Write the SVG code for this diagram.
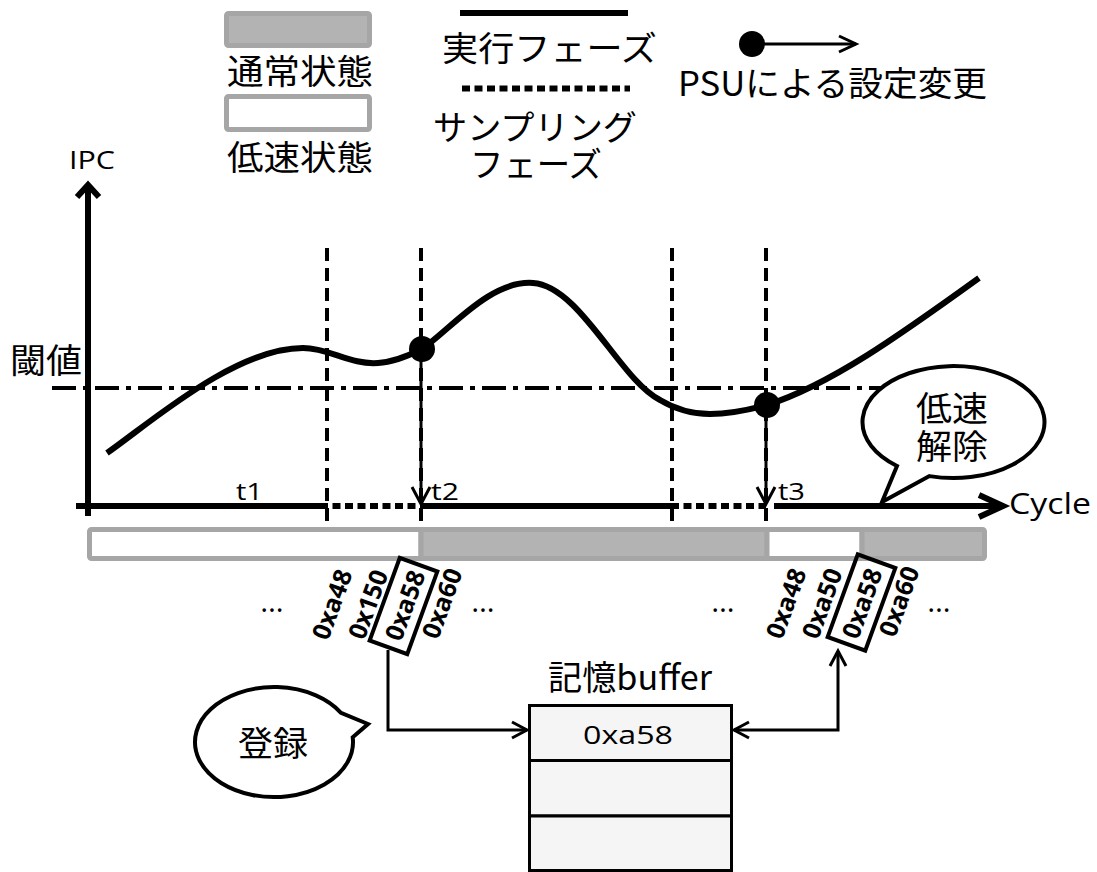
<svg xmlns="http://www.w3.org/2000/svg" width="1097" height="872" viewBox="0 0 1097 872">
<style>
.jp{font-family:"Noto Sans CJK JP","Noto Sans CJK SC",sans-serif;font-size:34px;fill:#000}
.lt{font-family:"Open Sans","Noto Sans",sans-serif;fill:#000}
.addr{font-family:"Open Sans","Noto Sans",sans-serif;font-weight:bold;font-size:25px;fill:#000;text-anchor:middle;dominant-baseline:central}
.ell{font-family:"Open Sans","Noto Sans",sans-serif;font-size:30px;fill:#000;text-anchor:middle}
.ln{stroke:#000;fill:none}
.gray{fill:#b3b3b3;stroke:#a6a6a6;stroke-width:5}
.white{fill:#fff;stroke:#a6a6a6;stroke-width:5}
.vdash{stroke:#000;stroke-width:4;stroke-dasharray:13 7;fill:none}
.dot{stroke:#000;stroke-width:6;stroke-dasharray:8 4.5;fill:none}
.bubble{fill:#fff;stroke:#000;stroke-width:4;stroke-linejoin:miter}
</style>
<rect width="1097" height="872" fill="#fff"/>

<g id="legend">
  <rect class="gray" x="226.5" y="13.5" width="143" height="32" rx="2"/>
  <text class="jp" x="227" y="84" textLength="146" lengthAdjust="spacingAndGlyphs">通常状態</text>
  <rect class="white" x="226.5" y="96.5" width="143" height="33" rx="2"/>
  <text class="jp" x="227" y="170" textLength="146" lengthAdjust="spacingAndGlyphs">低速状態</text>
  <line class="ln" x1="460" y1="13" x2="628" y2="13" stroke-width="6"/>
  <text class="jp" x="442" y="61" textLength="215" lengthAdjust="spacingAndGlyphs">実行フェーズ</text>
  <line class="dot" x1="462" y1="88.5" x2="630" y2="88.5"/>
  <text class="jp" x="433" y="140" font-size="33" textLength="204" lengthAdjust="spacingAndGlyphs">サンプリング</text>
  <text class="jp" x="470" y="177" font-size="33" textLength="132" lengthAdjust="spacingAndGlyphs">フェーズ</text>
  <circle cx="752" cy="44" r="13" fill="#000"/>
  <line class="ln" x1="752" y1="44" x2="856" y2="44" stroke-width="3"/>
  <polyline class="ln" points="839,36 856,44 839,52" stroke-width="3"/>
  <text class="jp" x="678" y="96" textLength="309" lengthAdjust="spacingAndGlyphs">PSUによる設定変更</text>
</g>

<g id="axes">
  <line class="ln" x1="88" y1="185" x2="88" y2="516" stroke-width="6"/>
  <polyline class="ln" points="77,197 88,185 99,197" stroke-width="6"/>
  <text class="lt" x="69" y="169" font-size="25" textLength="46" lengthAdjust="spacingAndGlyphs">IPC</text>
  <line class="ln" x1="76" y1="506" x2="320" y2="506" stroke-width="6"/>
  <line class="dot" x1="320" y1="506" x2="421" y2="506"/>
  <line class="ln" x1="421" y1="506" x2="671" y2="506" stroke-width="6"/>
  <line class="dot" x1="671" y1="506" x2="766" y2="506"/>
  <line class="ln" x1="774" y1="506" x2="1002" y2="506" stroke-width="6"/>
  <polyline class="ln" points="979,495 1003,506 979,517" stroke-width="6"/>
  <text class="lt" x="1009" y="514" font-size="29" textLength="82" lengthAdjust="spacingAndGlyphs">Cycle</text>
  <text class="jp" x="10" y="373" textLength="72" lengthAdjust="spacingAndGlyphs">閾値</text>
  <text class="lt" x="236" y="500" font-size="24" textLength="27" lengthAdjust="spacingAndGlyphs">t1</text>
  <text class="lt" x="431" y="500" font-size="24" textLength="28" lengthAdjust="spacingAndGlyphs">t2</text>
  <text class="lt" x="778" y="500" font-size="24" textLength="27" lengthAdjust="spacingAndGlyphs">t3</text>
</g>

<g id="guides">
  <line class="vdash" x1="327" y1="248" x2="327" y2="527"/>
  <line class="vdash" x1="421" y1="248" x2="421" y2="527"/>
  <line class="vdash" x1="672" y1="248" x2="672" y2="527"/>
  <line class="vdash" x1="766" y1="248" x2="766" y2="527"/>
  <line class="ln" x1="52" y1="388" x2="885" y2="388" stroke-width="4" stroke-dasharray="24 7 5 7"/>
</g>

<g id="curve">
  <path class="ln" stroke-width="6" d="M107,453 C150,423 235,348 303,348 C330,348 350,365 378,363 C395,362 410,355 422,349 C450,330 490,280 533,283 C580,286 620,380 660,400 C680,412 700,414 710,414 C735,414 755,408 767,405 C830,385 900,335 979,278"/>
  <circle cx="422" cy="349" r="13" fill="#000"/>
  <circle cx="767" cy="405" r="13" fill="#000"/>
</g>

<g id="connectors">
  <line class="ln" x1="421" y1="349" x2="421" y2="503" stroke-width="3"/>
  <polyline class="ln" points="412,487 421,504 430,487" stroke-width="3"/>
  <line class="ln" x1="766" y1="405" x2="766" y2="503" stroke-width="3"/>
  <polyline class="ln" points="757,487 766,504 775,487" stroke-width="3"/>
  <polyline class="ln" points="388,650 388,730 527,730" stroke-width="3"/>
  <polyline class="ln" points="512,722 527,730 512,738" stroke-width="3"/>
  <polyline class="ln" points="734,730 838,730 838,652" stroke-width="3"/>
  <polyline class="ln" points="749,722 734,730 749,738" stroke-width="3"/>
  <polyline class="ln" points="830,666 838,651 846,666" stroke-width="3"/>
</g>

<g id="state-bar">
  <rect class="white" x="89.5" y="529.5" width="331.5" height="29" rx="2"/>
  <rect class="gray" x="421" y="529.5" width="346" height="29"/>
  <rect class="white" x="767" y="529.5" width="95" height="29"/>
  <rect class="gray" x="862" y="529.5" width="122.5" height="29" rx="2"/>
</g>

<g id="addresses-left">
  <text class="ell" x="272" y="612">…</text>
  <text class="addr" x="331" y="604" transform="rotate(-70 331 604)">0xa48</text>
  <text class="addr" x="367" y="604" transform="rotate(-70 367 604)">0x150</text>
  <rect x="359.5" y="586" width="88" height="40" fill="none" stroke="#000" stroke-width="4" transform="rotate(-70 403.5 606)"/>
  <text class="addr" x="404" y="605" transform="rotate(-70 404 605)">0xa58</text>
  <text class="addr" x="441" y="603" transform="rotate(-70 441 603)">0xa60</text>
  <text class="ell" x="483" y="612">…</text>
</g>

<g id="addresses-right">
  <text class="ell" x="723" y="612">…</text>
  <text class="addr" x="785" y="603" transform="rotate(-70 785 603)">0xa48</text>
  <text class="addr" x="821" y="603" transform="rotate(-70 821 603)">0xa50</text>
  <rect x="817.5" y="582.5" width="88" height="40" fill="none" stroke="#000" stroke-width="4" transform="rotate(-70 861.5 602.5)"/>
  <text class="addr" x="861" y="603" transform="rotate(-70 861 603)">0xa58</text>
  <text class="addr" x="898" y="601" transform="rotate(-70 898 601)">0xa60</text>
  <text class="ell" x="939" y="612">…</text>
</g>

<g id="buffer">
  <text class="jp" x="548" y="690" font-size="31" textLength="164" lengthAdjust="spacingAndGlyphs">記憶buffer</text>
  <rect x="529.5" y="705.5" width="202" height="55" fill="#f5f5f5" stroke="#000" stroke-width="3"/>
  <rect x="529.5" y="760.5" width="202" height="55.5" fill="#f5f5f5" stroke="#000" stroke-width="3"/>
  <rect x="529.5" y="816" width="202" height="54.5" fill="#f5f5f5" stroke="#000" stroke-width="3"/>
  <text class="lt" x="628" y="744" font-size="26" text-anchor="middle" textLength="90" lengthAdjust="spacingAndGlyphs">0xa58</text>
</g>

<g id="bubble-release">
  <path class="bubble" d="M929.4,476.1 A91,56 0 1 0 897,466 L882,502 Z"/>
  <text class="jp" x="952" y="421" font-size="33" text-anchor="middle" textLength="72" lengthAdjust="spacingAndGlyphs">低速</text>
  <text class="jp" x="952" y="459" font-size="33" text-anchor="middle" textLength="72" lengthAdjust="spacingAndGlyphs">解除</text>
</g>

<g id="bubble-register">
  <path class="bubble" d="M352.7,737.2 A79,55 0 1 1 341,712.9 L368,724 Z"/>
  <text class="jp" x="238" y="756" textLength="70" lengthAdjust="spacingAndGlyphs">登録</text>
</g>
</svg>
